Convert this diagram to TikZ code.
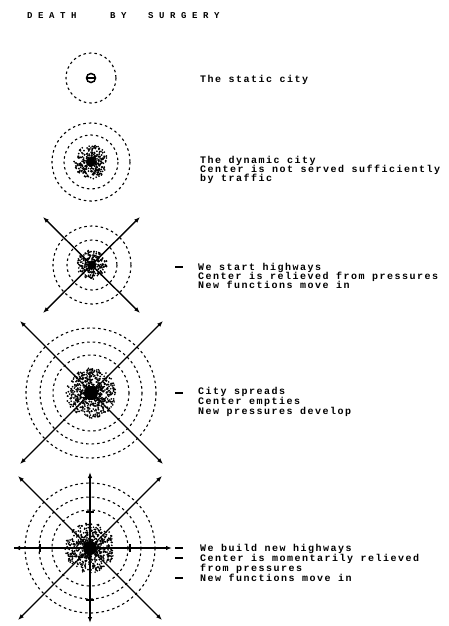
\documentclass[tikz,border=0pt]{standalone}
\usepackage{fontspec}
\usetikzlibrary{arrows.meta,calc}
\newfontfamily\bodyfont{Liberation Mono}[LetterSpace=15]
\newfontfamily\titlefont{Liberation Mono}[LetterSpace=62]
\begin{document}
\begin{tikzpicture}[x=1pt,y=-1pt,
  ring/.style={draw=black,line width=1.1pt,dash pattern=on 2.5pt off 3pt},
  road/.style={line width=1.4pt,{Latex[length=6pt,width=4.5pt]}-{Latex[length=6pt,width=4.5pt]}},
  lbl/.style={anchor=base west,inner sep=0pt,font=\bodyfont\bfseries\fontsize{10}{10}\selectfont},
  ttl/.style={anchor=base west,inner sep=0pt,font=\titlefont\bfseries\fontsize{9}{9}\selectfont},
  bar/.style={line width=1.3pt}]
\useasboundingbox (0,0) rectangle (449,626);
\pgfmathsetseed{7}
\newcommand{\cluster}[3]{%
  \foreach \i in {1,...,#3} {
    \pgfmathsetmacro{\rr}{#2*(rnd^0.7)}
    \pgfmathsetmacro{\aa}{360*rnd}
    \fill (#1) ++(\aa:\rr) circle (0.95pt);
  }
  \fill (#1) circle (#2*0.28);}
% title
\node[ttl] (t1) at (27,19) {DEATH};
\node[ttl] (t2) at (110,19) {BY};
\node[ttl] (t3) at (148,19) {SURGERY};
% diagram 1
\coordinate (c1) at (91,78);
\draw[ring] (c1) circle (25);
\draw[line width=1.5pt] (c1) circle (4.5);
\draw[line width=1.3pt] ($(c1)+(-4,0)$) -- ($(c1)+(4,0)$);
\node[lbl] (l1) at (200,82) {The static city};
% diagram 2
\coordinate (c2) at (91,162);
\draw[ring] (c2) circle (39);
\draw[ring] (c2) circle (27);
\cluster{c2}{17}{330}
\node[lbl] (l2a) at (200,163) {The dynamic city};
\node[lbl] (l2b) at (200,172) {Center is not served sufficiently};
\node[lbl] (l2c) at (200,181) {by traffic};
% diagram 3
\coordinate (c3) at (92,265);
\coordinate (a3) at (43,217); \coordinate (b3) at (140,313);
\coordinate (d3) at (43,313); \coordinate (e3) at (140,217);
\draw[ring] (c3) circle (39);
\draw[ring] (c3) circle (25);
\cluster{c3}{15}{260}
\draw[road] (a3) -- (b3);
\draw[road] (d3) -- (e3);
\coordinate (m3a) at (175,267); \coordinate (m3b) at (183,267);
\draw[bar] (m3a) -- (m3b);
\node[lbl] (l3a) at (198,270) {We start highways};
\node[lbl] (l3b) at (198,279) {Center is relieved from pressures};
\node[lbl] (l3c) at (198,288) {New functions move in};
% diagram 4
\coordinate (c4) at (91,393);
\coordinate (a4) at (20,321); \coordinate (b4) at (163,464);
\coordinate (d4) at (20,464); \coordinate (e4) at (163,321);
\draw[ring] (c4) circle (65);
\draw[ring] (c4) circle (51);
\draw[ring] (c4) circle (38);
\cluster{c4}{25}{650}
\draw[road] (a4) -- (b4);
\draw[road] (d4) -- (e4);
\coordinate (m4a) at (175,393); \coordinate (m4b) at (183,393);
\draw[bar] (m4a) -- (m4b);
\node[lbl] (l4a) at (198,394) {City spreads};
\node[lbl] (l4b) at (198,404) {Center empties};
\node[lbl] (l4c) at (198,414) {New pressures develop};
% diagram 5
\coordinate (c5) at (90,548);
\coordinate (a5) at (18,476); \coordinate (b5) at (162,620);
\coordinate (d5) at (18,620); \coordinate (e5) at (162,476);
\coordinate (v5a) at (90,472); \coordinate (v5b) at (90,623);
\coordinate (h5a) at (14,548); \coordinate (h5b) at (172,548);
\draw[ring] (c5) circle (65);
\draw[ring] (c5) circle (51);
\draw[ring] (c5) circle (38);
\cluster{c5}{25}{600}
\draw[road] (a5) -- (b5);
\draw[road] (d5) -- (e5);
\draw[road] (v5a) -- (v5b);
\draw[road] (h5a) -- (h5b);
\draw[line width=2.4pt] (h5a) -- (c5);
\draw[bar] (40,544) -- (40,552);
\draw[bar] (130,544) -- (130,552);
\draw[bar] (86,512) -- (94,512);
\draw[bar] (86,600) -- (94,600);
\coordinate (m5a) at (175,548); \coordinate (m5b) at (183,548);
\coordinate (m5c) at (175,558); \coordinate (m5d) at (183,558);
\coordinate (m5e) at (175,578); \coordinate (m5f) at (183,578);
\draw[bar] (m5a) -- (m5b);
\draw[bar] (m5c) -- (m5d);
\draw[bar] (m5e) -- (m5f);
\node[lbl] (l5a) at (200,551) {We build new highways};
\node[lbl] (l5b) at (200,561) {Center is momentarily relieved};
\node[lbl] (l5c) at (200,571) {from pressures};
\node[lbl] (l5d) at (200,581) {New functions move in};
\end{tikzpicture}
\end{document}
